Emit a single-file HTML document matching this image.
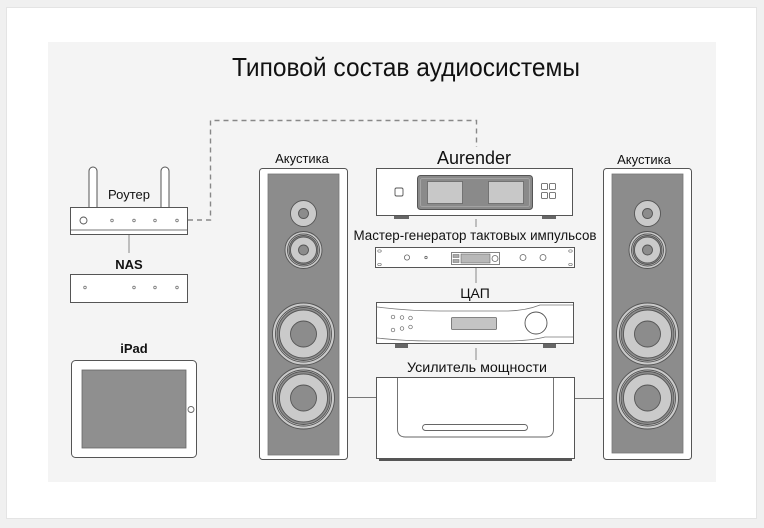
<!DOCTYPE html>
<html><head><meta charset="utf-8">
<style>
html,body{margin:0;padding:0;background:#f0f0f0;}
svg{display:block;}
text{font-family:"Liberation Sans","Noto Sans CJK SC",sans-serif;fill:#111;}
</style></head>
<body>
<svg width="764" height="528" viewBox="0 0 764 528" xmlns="http://www.w3.org/2000/svg">
<rect x="0" y="0" width="764" height="528" fill="#f0f0f0"/>
<rect x="6.5" y="7.5" width="750" height="511" fill="#ffffff" stroke="#e4e4e4"/>
<rect x="48" y="42" width="668" height="440" fill="#f4f4f4"/>

<text x="406" y="76" font-size="26" text-anchor="middle" textLength="348" lengthAdjust="spacingAndGlyphs">Типовой состав аудиосистемы</text>

<!-- dashed network line -->
<path d="M188,220 H210.5 V120.5 H476.5 V147" fill="none" stroke="#888" stroke-width="1.4" stroke-dasharray="5,4"/>

<!-- Router -->
<rect x="89" y="167" width="8" height="44" rx="4" fill="#fff" stroke="#555" stroke-width="1"/>
<rect x="161" y="167" width="8" height="44" rx="4" fill="#fff" stroke="#555" stroke-width="1"/>
<text x="129" y="199" font-size="13" text-anchor="middle">Роутер</text>
<rect x="70.5" y="207.5" width="117" height="27" fill="#fff" stroke="#555" stroke-width="1"/>
<line x1="71" y1="230" x2="187" y2="230" stroke="#777" stroke-width="1"/>
<circle cx="83.5" cy="220.5" r="3.5" fill="#fff" stroke="#555" stroke-width="0.9"/>
<g fill="#fff" stroke="#777" stroke-width="0.8">
<circle cx="112" cy="220.5" r="1.3"/><circle cx="134" cy="220.5" r="1.3"/><circle cx="155" cy="220.5" r="1.3"/><circle cx="177" cy="220.5" r="1.3"/>
</g>
<line x1="129" y1="235" x2="129" y2="253" stroke="#888" stroke-width="1"/>
<text x="129" y="269" font-size="13" font-weight="bold" text-anchor="middle" fill="#222">NAS</text>
<rect x="70.5" y="274.5" width="117" height="28" fill="#fff" stroke="#555" stroke-width="1"/>
<g fill="#fff" stroke="#777" stroke-width="0.8">
<circle cx="85" cy="287.5" r="1.3"/><circle cx="134" cy="287.5" r="1.3"/><circle cx="155" cy="287.5" r="1.3"/><circle cx="177" cy="287.5" r="1.3"/>
</g>

<!-- iPad -->
<text x="134" y="353" font-size="13" font-weight="bold" text-anchor="middle" fill="#222">iPad</text>
<rect x="71.5" y="360.5" width="125" height="97" rx="4" fill="#fff" stroke="#555" stroke-width="1"/>
<rect x="82" y="370" width="104" height="78" fill="#8f8f8f" stroke="#666" stroke-width="0.8"/>
<circle cx="191" cy="409.5" r="3" fill="#fff" stroke="#666" stroke-width="0.9"/>

<!-- Left speaker -->
<text x="302" y="163" font-size="13" text-anchor="middle">Акустика</text>
<rect x="259.5" y="168.5" width="88" height="291" rx="3" fill="#fff" stroke="#555" stroke-width="1"/>
<rect x="268" y="174" width="71" height="281" fill="#8c8c8c" stroke="#777" stroke-width="0.8"/>
<g id="drivers" stroke="#555" stroke-width="0.9">
<circle cx="303.5" cy="213.5" r="13" fill="#cacaca"/>
<circle cx="303.5" cy="213.5" r="5" fill="#8c8c8c"/>
<circle cx="303.5" cy="250" r="18.5" fill="#cacaca"/>
<circle cx="303.5" cy="250" r="16" fill="none"/>
<circle cx="303.5" cy="250" r="14.5" fill="#8c8c8c"/>
<circle cx="303.5" cy="250" r="13" fill="#cacaca"/>
<circle cx="303.5" cy="250" r="5" fill="#8c8c8c"/>
<circle cx="303.5" cy="334" r="31" fill="#cacaca"/>
<circle cx="303.5" cy="334" r="28" fill="none"/>
<circle cx="303.5" cy="334" r="26.5" fill="#8c8c8c"/>
<circle cx="303.5" cy="334" r="24" fill="#cacaca"/>
<circle cx="303.5" cy="334" r="13" fill="#8c8c8c"/>
<circle cx="303.5" cy="398" r="31" fill="#cacaca"/>
<circle cx="303.5" cy="398" r="28" fill="none"/>
<circle cx="303.5" cy="398" r="26.5" fill="#8c8c8c"/>
<circle cx="303.5" cy="398" r="24" fill="#cacaca"/>
<circle cx="303.5" cy="398" r="13" fill="#8c8c8c"/>
</g>

<!-- Right speaker -->
<text x="644" y="164" font-size="13" text-anchor="middle">Акустика</text>
<rect x="603.5" y="168.5" width="88" height="291" rx="3" fill="#fff" stroke="#555" stroke-width="1"/>
<rect x="612" y="174" width="71" height="279" fill="#8c8c8c" stroke="#777" stroke-width="0.8"/>
<use href="#drivers" x="344" y="0"/>

<!-- Aurender -->
<text x="474" y="164" font-size="18" text-anchor="middle" textLength="74" lengthAdjust="spacingAndGlyphs">Aurender</text>
<rect x="376.5" y="168.5" width="196" height="47" fill="#fff" stroke="#555" stroke-width="1"/>
<rect x="395" y="188" width="8" height="8" rx="1.5" fill="#fff" stroke="#555" stroke-width="0.9"/>
<rect x="417.5" y="175.5" width="115" height="34" rx="3" fill="#8a8a8a" stroke="#555" stroke-width="1"/>
<rect x="420.5" y="178.5" width="109" height="28" rx="2" fill="none" stroke="#aaa" stroke-width="0.8"/>
<rect x="427.5" y="181.5" width="35" height="22" fill="#c8c8c8" stroke="#666" stroke-width="0.8"/>
<rect x="488.5" y="181.5" width="35" height="22" fill="#c8c8c8" stroke="#666" stroke-width="0.8"/>
<g fill="#fff" stroke="#555" stroke-width="0.8">
<rect x="541.5" y="183.5" width="6" height="6" rx="1"/><rect x="549.5" y="183.5" width="6" height="6" rx="1"/>
<rect x="541.5" y="192.5" width="6" height="6" rx="1"/><rect x="549.5" y="192.5" width="6" height="6" rx="1"/>
</g>
<rect x="394" y="216" width="15" height="3" fill="#666"/>
<rect x="542" y="216" width="14" height="3" fill="#666"/>
<line x1="476" y1="219" x2="476" y2="227" stroke="#888" stroke-width="1"/>

<!-- Clock -->
<text x="475" y="240" font-size="13.5" text-anchor="middle" textLength="243" lengthAdjust="spacingAndGlyphs">Мастер-генератор тактовых импульсов</text>
<rect x="375.5" y="247.5" width="199" height="20" fill="#fff" stroke="#555" stroke-width="1"/>
<g fill="#fff" stroke="#777" stroke-width="0.7">
<ellipse cx="379.5" cy="251" rx="1.8" ry="1.2"/><ellipse cx="379.5" cy="264.5" rx="1.8" ry="1.2"/>
<ellipse cx="570.5" cy="251" rx="1.8" ry="1.2"/><ellipse cx="570.5" cy="264.5" rx="1.8" ry="1.2"/>
</g>
<g fill="#fff" stroke="#666" stroke-width="0.8">
<circle cx="407" cy="257.5" r="2.6"/>
<circle cx="426" cy="257.5" r="1.2"/>
<circle cx="523" cy="257.5" r="3"/>
<circle cx="543" cy="257.5" r="3"/>
</g>
<rect x="451.5" y="252.5" width="48" height="12" fill="#fff" stroke="#666" stroke-width="0.8"/>
<rect x="453" y="254.5" width="6" height="3" fill="#aaa" stroke="#666" stroke-width="0.5"/>
<rect x="453" y="259.5" width="6" height="3" fill="#aaa" stroke="#666" stroke-width="0.5"/>
<rect x="461" y="254" width="29" height="9" fill="#b8b8b8" stroke="#666" stroke-width="0.6"/>
<circle cx="495" cy="258.5" r="3" fill="#fff" stroke="#666" stroke-width="0.8"/>
<line x1="476" y1="268" x2="476" y2="283" stroke="#888" stroke-width="1"/>

<!-- DAC -->
<text x="475" y="298" font-size="14" text-anchor="middle">ЦАП</text>
<rect x="376.5" y="302.5" width="197" height="41" fill="#fff" stroke="#555" stroke-width="1"/>
<path d="M377,307 Q410,311 440,311 L505,311 Q525,311 540,305 L573,305" fill="none" stroke="#777" stroke-width="0.8"/>
<path d="M377,338 Q405,341 430,341 L505,341 Q530,341 545,337 L573,337" fill="none" stroke="#777" stroke-width="0.8"/>
<g fill="#fff" stroke="#666" stroke-width="0.7">
<circle cx="393" cy="317" r="1.8"/><circle cx="402" cy="317.5" r="1.8"/><circle cx="410.5" cy="318" r="1.8"/>
<circle cx="393" cy="330" r="1.8"/><circle cx="402" cy="328.5" r="1.8"/><circle cx="410.5" cy="327" r="1.8"/>
</g>
<rect x="451.5" y="317.5" width="45" height="12" rx="1" fill="#c4c4c4" stroke="#666" stroke-width="0.8"/>
<circle cx="536" cy="323" r="11" fill="#fff" stroke="#555" stroke-width="0.9"/>
<rect x="395" y="344" width="13" height="4" fill="#666"/>
<rect x="543" y="344" width="13" height="4" fill="#666"/>
<line x1="476" y1="348" x2="476" y2="360" stroke="#888" stroke-width="1"/>

<!-- Amplifier -->
<text x="477" y="372" font-size="14" text-anchor="middle" textLength="140" lengthAdjust="spacingAndGlyphs">Усилитель мощности</text>
<rect x="376.5" y="377.5" width="198" height="81" fill="#fff" stroke="#555" stroke-width="1"/>
<path d="M397.5,378 V429 Q397.5,437 405.5,437 H545.5 Q553.5,437 553.5,429 V378" fill="none" stroke="#666" stroke-width="0.9"/>
<rect x="422.5" y="424.5" width="105" height="6" rx="3" fill="#fff" stroke="#666" stroke-width="0.9"/>
<line x1="379" y1="460" x2="572" y2="460" stroke="#555" stroke-width="2"/>
<line x1="348" y1="397.5" x2="376" y2="397.5" stroke="#777" stroke-width="1"/>
<line x1="575" y1="398.5" x2="603" y2="398.5" stroke="#777" stroke-width="1"/>
</svg>
</body></html>
